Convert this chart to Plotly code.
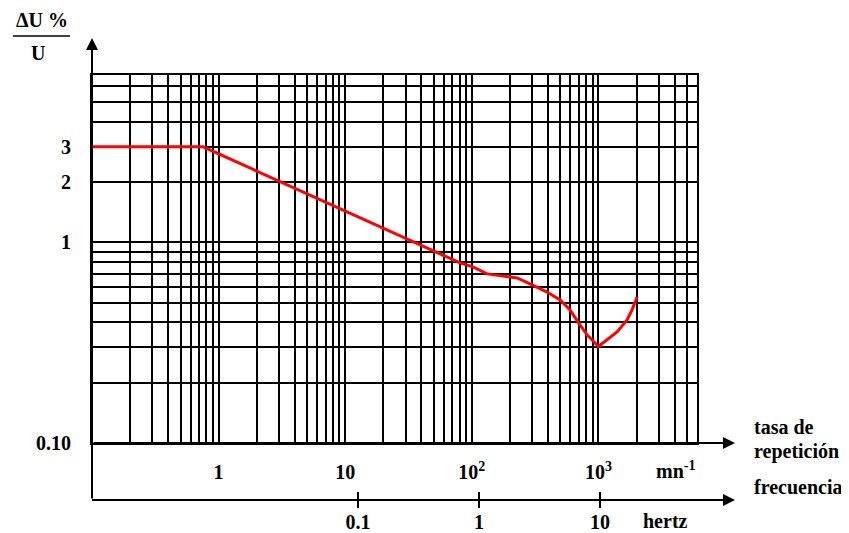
import math
import plotly.graph_objects as go

# ---- data ----
rate_mn = [0.1, 0.754, 80.7, 102, 132, 176, 228, 288, 393, 498, 597, 690, 813, 1000, 1087, 1403, 1683, 1842, 2018]
dU_pct = [3.0, 3.0, 0.791, 0.755, 0.697, 0.681, 0.665, 0.621, 0.566, 0.517, 0.461, 0.401, 0.346, 0.303, 0.315, 0.358, 0.411, 0.461, 0.535]

x_label_vals = [1, 10, 100, 1000]
x_label_text = ["1", "10", "10<sup>2</sup>", "10<sup>3</sup>"]
y_label_vals = [0.1, 1, 2, 3]
y_label_text = ["0.10", "1", "2", "3"]
hz_vals = [0.1, 1, 10]
hz_text = ["0.1", "1", "10"]

X_MAX = 6000
Y_MAX = 6.84
HZ_RANGE = [-3.198, 1.802]

# grid (log decades)
x_grid = [m * 10 ** e for e in range(-1, 4) for m in range(1, 10) if m * 10 ** e <= X_MAX * 1.0001]
y_grid = [m * 10 ** e for e in range(-1, 1) for m in range(1, 10) if m * 10 ** e <= Y_MAX]

FONT = dict(family="Liberation Serif", size=20, color="black", weight="bold")
GRID = dict(showgrid=True, gridcolor="black", gridwidth=2)

fig = go.Figure()
fig.add_trace(go.Scatter(x=rate_mn, y=dU_pct, mode="lines",
                         line=dict(color="#ff0000", width=3), showlegend=False,
                         hoverinfo="skip"))

OFF = 8  # page body margin
W, H = 849 - OFF, 533 - OFF
L = 92 - OFF
T = 75 - OFF
R = W - (697 - OFF)
B = H - (500 - OFF)
plot_w = W - L - R
plot_h = H - T - B
ydom0 = (500 - 443) / plot_h

def px_x(px):
    return (px - OFF - L) / plot_w

def px_y(py):
    return (H - B - (py - OFF)) / plot_h

fig.update_layout(
    width=W, height=H,
    margin=dict(l=L, r=R, t=T, b=B, autoexpand=False),
    paper_bgcolor="white", plot_bgcolor="white",
    font=FONT,
    showlegend=False,
    xaxis=dict(type="log", range=[-1, math.log10(X_MAX)],
               tickmode="array", tickvals=x_label_vals, ticktext=x_label_text,
               minor=dict(tickmode="array", tickvals=x_grid, ticks="", **GRID),
               **GRID,
               showline=True, mirror=True, linecolor="black", linewidth=2,
               ticks="", tickfont=FONT, ticklabelstandoff=10,
               zeroline=False, anchor="y", fixedrange=True),
    yaxis=dict(type="log", range=[-1, math.log10(Y_MAX)], domain=[ydom0, 1],
               tickmode="array", tickvals=y_label_vals, ticktext=y_label_text,
               minor=dict(tickmode="array", tickvals=y_grid, ticks="", **GRID),
               **GRID,
               showline=True, mirror=True, linecolor="black", linewidth=2,
               ticks="", tickfont=FONT, ticklabelstandoff=15,
               zeroline=False, fixedrange=True),
    xaxis2=dict(type="log", range=HZ_RANGE, overlaying="x", anchor="free", position=0,
                tickmode="array", tickvals=hz_vals, ticktext=hz_text,
                ticks="outside", ticklen=7, tickwidth=2, tickcolor="black",
                showline=True, linecolor="black", linewidth=2,
                showgrid=False, zeroline=False, tickfont=FONT,
                ticklabelstandoff=-3, fixedrange=True),
    xaxis3=dict(type="log", range=HZ_RANGE, overlaying="x", anchor="free", position=0,
                tickmode="array", tickvals=hz_vals,
                ticks="inside", ticklen=8, tickwidth=2, tickcolor="black",
                showline=False, showticklabels=False,
                showgrid=False, zeroline=False, fixedrange=True),
)

# invisible traces so the hertz axes are drawn
for ax in ("x2", "x3"):
    fig.add_trace(go.Scatter(x=[hz_vals[0]], y=[dU_pct[0]], xaxis=ax, yaxis="y",
                             mode="markers", marker=dict(opacity=0),
                             showlegend=False, hoverinfo="skip"))

ann = []
arrow = dict(text="", showarrow=True, arrowhead=2, arrowsize=1.2, arrowwidth=2,
             arrowcolor="black", xref="paper", yref="paper", axref="pixel", ayref="pixel")
# y axis arrow
ann.append(dict(arrow, x=px_x(92), y=px_y(38), ax=0, ay=500 - 38))
# rate axis arrow
ann.append(dict(arrow, x=px_x(735), y=px_y(443), ax=-(735 - 92), ay=0))
# hertz axis arrow
ann.append(dict(arrow, x=px_x(735), y=px_y(500), ax=-(735 - 92), ay=0))

def txt(t, xpx, ypx, xanchor="center"):
    return dict(text=t, x=px_x(xpx), y=px_y(ypx), xref="paper", yref="paper",
                showarrow=False, xanchor=xanchor, yanchor="middle", font=FONT)

ann += [
    txt("tasa de", 752, 427, "left"),
    txt("repetición", 752, 451, "left"),
    txt("frecuencia", 752, 487, "left"),
    txt("mn<sup>-1</sup>", 675, 470),
    txt("hertz", 665, 521),
    txt("ΔU %", 42, 20),
    txt("U", 38, 53),
]
fig.update_layout(annotations=ann)

# fraction bar of the y title
fig.add_shape(type="line", xref="paper", yref="paper",
              x0=px_x(13), x1=px_x(70), y0=px_y(36), y1=px_y(36),
              line=dict(color="black", width=1.5))

fig.write_html("out.html")
